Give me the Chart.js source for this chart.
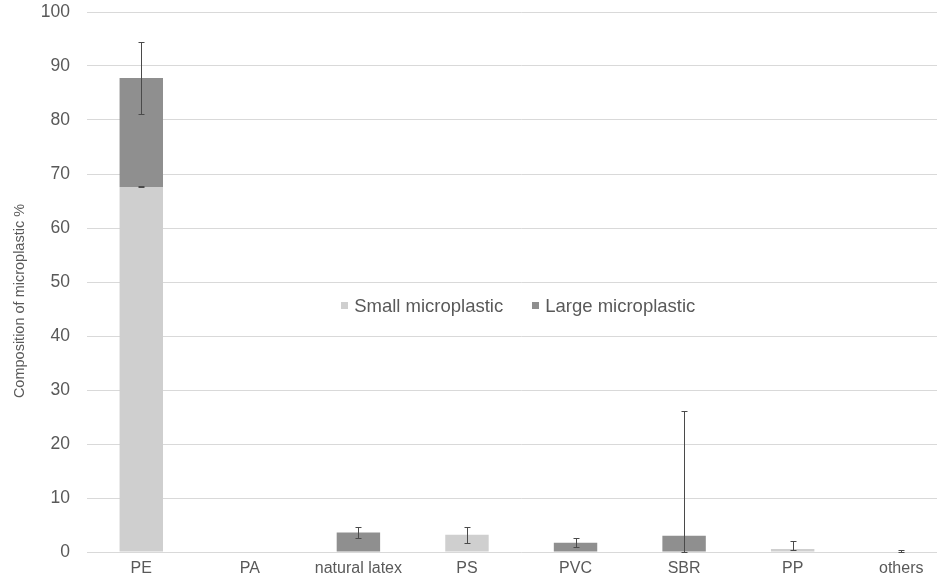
<!DOCTYPE html>
<html>
<head>
<meta charset="utf-8">
<script src="https://cdn.jsdelivr.net/npm/chart.js@4.4.1/dist/chart.umd.min.js"></script>
<style>
  html, body { margin: 0; padding: 0; background: #ffffff; overflow: hidden; }
  #wrap { width: 960px; height: 580px; }
</style>
</head>
<body>
<div id="wrap"><canvas id="c" width="960" height="580"></canvas></div>
<script>
const categories = ['PE', 'PA', 'natural latex', 'PS', 'PVC', 'SBR', 'PP', 'others'];
const smallValues = [67.6, 0, 0, 3.2, 0, 0, 0.55, 0];
const largeValues = [20.2, 0, 3.6, 0, 1.7, 3.0, 0, 0];
const smallErrPlus = [0.1, 0, 0, 1.45, 0, 0, 1.45, 0];
const smallErrMinus = [0.1, 0, 0, 1.45, 0, 0, 0.25, 0];
const largeErrPlus = [6.6, 0, 0.95, 0, 0.85, 23.2, 0, 0.3];
const largeErrMinus = [6.7, 0, 0.95, 0, 0.85, 3.0, 0, 0];
const yTicks = [0, 10, 20, 30, 40, 50, 60, 70, 80, 90, 100];
const seriesNames = ['Small microplastic', 'Large microplastic'];
const yTitle = 'Composition of microplastic %';

const COLORS = ['#cfcfcf', '#8f8f8f'];
const TEXT = '#595959';
const FONT = '"Liberation Sans", Arial, sans-serif';

const errorBars = {
  id: 'errorBars',
  afterDatasetsDraw(chart) {
    const ctx = chart.ctx;
    const x = chart.scales.x, y = chart.scales.y;
    const sets = [
      { base: () => 0, vals: smallValues, plus: smallErrPlus, minus: smallErrMinus },
      { base: (i) => smallValues[i], vals: largeValues, plus: largeErrPlus, minus: largeErrMinus }
    ];
    ctx.save();
    ctx.strokeStyle = '#4a4a4a';
    ctx.lineWidth = 1;
    sets.forEach(s => {
      categories.forEach((c, i) => {
        const p = s.plus[i], m = s.minus[i];
        if (!p && !m) return;
        const top = s.base(i) + s.vals[i];
        const cx = Math.round(x.getPixelForValue(i)) + 0.5;
        const y1 = Math.round(y.getPixelForValue(top + p)) + 0.5;
        const y2 = Math.round(y.getPixelForValue(Math.max(0, top - m))) + 0.5;
        ctx.beginPath();
        ctx.moveTo(cx, y1); ctx.lineTo(cx, y2);
        ctx.moveTo(cx - 3, y1); ctx.lineTo(cx + 3, y1);
        ctx.moveTo(cx - 3, y2); ctx.lineTo(cx + 3, y2);
        ctx.stroke();
      });
    });
    ctx.restore();
  }
};

const extras = {
  id: 'extras',
  afterDraw(chart) {
    const ctx = chart.ctx;
    const area = chart.chartArea;
    ctx.save();
    // y axis title
    ctx.fillStyle = TEXT;
    ctx.font = '14.5px ' + FONT;
    ctx.textAlign = 'center';
    ctx.textBaseline = 'middle';
    ctx.translate(20, 301);
    ctx.rotate(-Math.PI / 2);
    ctx.fillText(yTitle, 0, 0);
    ctx.restore();

    // legend in the middle of the plot
    ctx.save();
    ctx.font = '18.5px ' + FONT;
    ctx.textBaseline = 'middle';
    ctx.textAlign = 'left';
    const sq = 7, gap = 6, spacing = 29;
    const w0 = ctx.measureText(seriesNames[0]).width;
    const w1 = ctx.measureText(seriesNames[1]).width;
    const total = sq + gap + w0 + spacing + sq + gap + w1;
    let lx = (area.left + area.right) / 2 - 3 - total / 2;
    const ly = 306;
    [w0, w1].forEach((w, k) => {
      ctx.fillStyle = COLORS[k];
      ctx.fillRect(Math.round(lx), ly - 4, sq, sq);
      ctx.fillStyle = TEXT;
      ctx.fillText(seriesNames[k], lx + sq + gap, ly + 1);
      lx += sq + gap + w + spacing;
    });
    ctx.restore();
  }
};

new Chart(document.getElementById('c'), {
  type: 'bar',
  data: {
    labels: categories,
    datasets: [
      { label: seriesNames[0], data: smallValues, backgroundColor: COLORS[0], borderWidth: 0,
        barPercentage: 0.4, categoryPercentage: 1.0 },
      { label: seriesNames[1], data: largeValues, backgroundColor: COLORS[1], borderWidth: 0,
        barPercentage: 0.4, categoryPercentage: 1.0 }
    ]
  },
  options: {
    responsive: false,
    animation: false,
    layout: { padding: { top: 12, right: 4.5, left: 0, bottom: 0 } },
    plugins: { legend: { display: false }, tooltip: { enabled: false } },
    scales: {
      x: {
        stacked: true,
        grid: { display: false, drawTicks: false },
        border: { display: false },
        ticks: { color: TEXT, font: { family: FONT, size: 16 }, padding: 7, maxRotation: 0, autoSkip: false },
        afterFit(scale) { scale.height = 28; }
      },
      y: {
        stacked: true,
        min: 0, max: 100,
        afterBuildTicks(scale) { scale.ticks = yTicks.map(v => ({ value: v })); },
        grid: { color: '#d9d9d9', lineWidth: 1, drawTicks: true, tickLength: 17, tickColor: 'rgba(0,0,0,0)' },
        border: { display: false },
        ticks: { color: TEXT, font: { family: FONT, size: 17.5 }, padding: 0 },
        afterFit(scale) { scale.width = 87; }
      }
    }
  },
  plugins: [errorBars, extras]
});
</script>
</body>
</html>
